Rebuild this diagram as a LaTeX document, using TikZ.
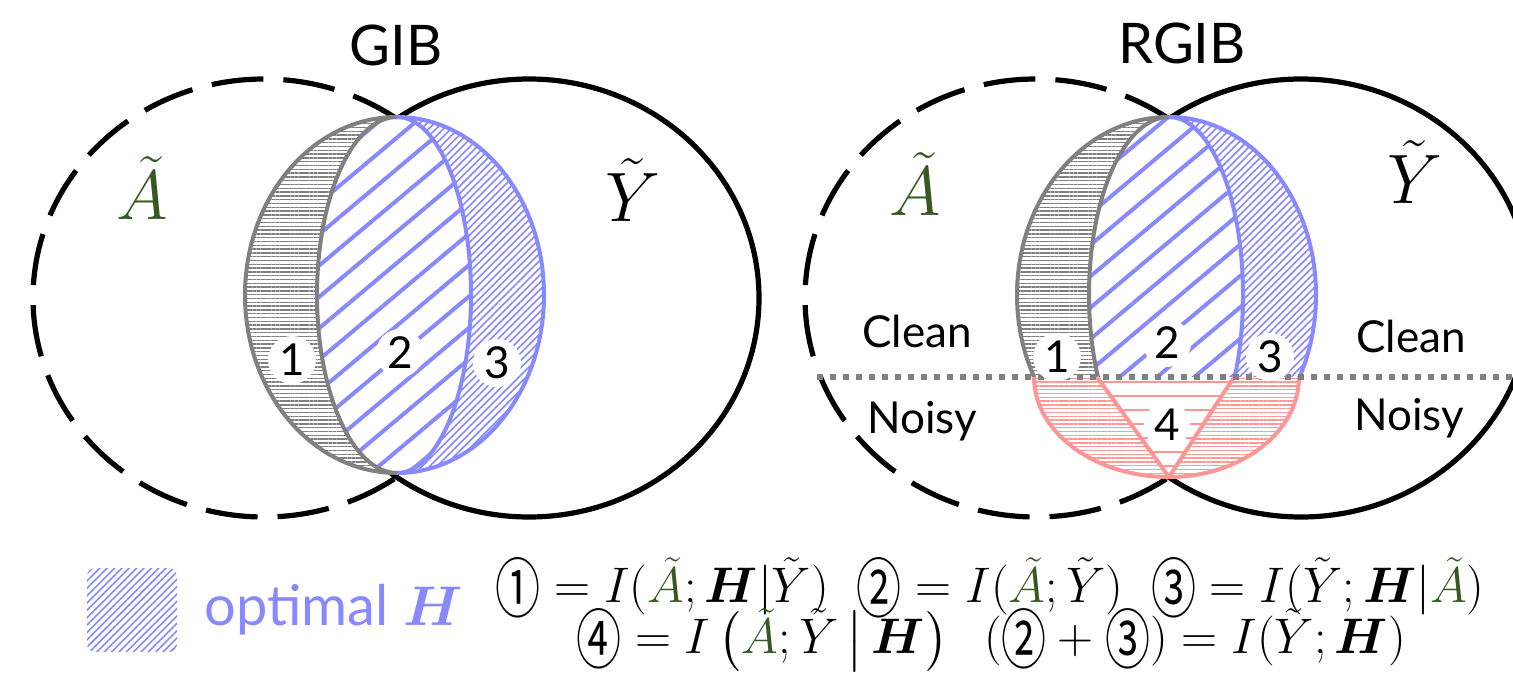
\RequirePackage{fix-cm}
\documentclass[tikz,border=0pt]{standalone}
\usepackage{amsmath,amssymb,bm}
\usepackage{graphicx}
\usepackage{fontspec}
\usepackage{tikz}
\usetikzlibrary{positioning,patterns.meta}
\newfontfamily\gillfont{Lato}
\newfontfamily\circfont{Noto Sans CJK SC}
\definecolor{optblue}{RGB}{136,136,255}
\definecolor{lensgray}{RGB}{128,128,128}
\definecolor{noisepink}{RGB}{255,150,150}
\definecolor{agreen}{RGB}{56,87,35}
\newcommand{\At}{\textcolor{agreen}{\tilde{A}}}
\newcommand{\Yt}{\tilde{Y}}
\newcommand{\Hb}{\bm{H}}
\newcommand{\cnum}[1]{\text{\raisebox{-0.2em}{\scalebox{0.9}[1.3]{\circfont #1}}}}
% the three lens regions, top point (397,117), bottom point (397,473)
\newcommand{\lensfill}[3]{%
  \path[fill=white] (397,117) arc[start angle=270,end angle=90,x radius=152,y radius=178]
    arc[start angle=90,end angle=-90,x radius=147,y radius=178] -- cycle;
  \path[#1] (397,117) arc[start angle=270,end angle=90,x radius=152,y radius=178]
    arc[start angle=90,end angle=270,x radius=80,y radius=178] -- cycle;
  \path[#2] (397,117) arc[start angle=270,end angle=90,x radius=80,y radius=178]
    arc[start angle=90,end angle=-90,x radius=74,y radius=178] -- cycle;
  \path[#3] (397,117) arc[start angle=270,end angle=450,x radius=147,y radius=178]
    arc[start angle=90,end angle=-90,x radius=74,y radius=178] -- cycle;
}
\newcommand{\lensedges}[4]{%
  \draw[#1] (397,117) arc[start angle=270,end angle=90,x radius=152,y radius=178];
  \draw[#2] (397,117) arc[start angle=270,end angle=90,x radius=80,y radius=178];
  \draw[#3] (397,117) arc[start angle=270,end angle=450,x radius=74,y radius=178];
  \draw[#4] (397,117) arc[start angle=270,end angle=450,x radius=147,y radius=178];
}
\tikzset{
  setcircle/.style={line width=2.6pt,draw=black},
  setdashed/.style={setcircle,dash pattern=on 26pt off 10pt},
  grayedge/.style={draw=lensgray,line width=2pt},
  blueedge/.style={draw=optblue,line width=2pt},
  pinkedge/.style={draw=noisepink,line width=2pt,line join=round},
  hatchgray/.style={pattern={Lines[angle=0,distance=1.9pt,line width=0.7pt]},pattern color=lensgray},
  hatchwide/.style={pattern={Lines[angle=40,distance=12pt,line width=2pt]},pattern color=optblue},
  hatchfine/.style={pattern={Lines[angle=45,distance=2.6pt,line width=0.8pt]},pattern color=optblue},
  hatchpink/.style={pattern={Lines[angle=0,distance=1.9pt,line width=0.7pt]},pattern color=noisepink},
  hatchsparse/.style={pattern={Lines[angle=0,distance=7pt,line width=1.4pt]},pattern color=noisepink},
  regionnum/.style={circle,fill=white,inner sep=1pt,minimum size=24pt,font=\gillfont\fontsize{22}{22}\selectfont},
  settitle/.style={font=\gillfont\fontsize{28}{28}\selectfont},
  setname/.style={font=\fontsize{35}{35}\selectfont},
  splitlabel/.style={anchor=base,font=\gillfont\fontsize{22}{22}\selectfont},
  separator/.style={draw=lensgray,line width=2.6pt,dash pattern=on 3pt off 3.5pt},
  legendbox/.style={hatchfine,rounded corners=4pt,minimum width=45pt,minimum height=42pt,inner sep=0pt},
  eqline/.style={inner sep=0pt,font=\fontsize{25}{29}\selectfont},
}
\begin{document}
\begin{tikzpicture}[x=0.5pt,y=-0.5pt]
  \useasboundingbox (0,0) rectangle (1513,690);
  % GIB
  \draw[setdashed] (264,298) ellipse[x radius=231,y radius=219];
  \draw[setcircle] (529,298) ellipse[x radius=230,y radius=219];
  \lensfill{hatchgray}{hatchwide}{hatchfine}
  \lensedges{grayedge}{grayedge}{blueedge}{blueedge}
  \node[settitle] (gibtitle) at (396,45) {GIB};
  \node[setname] (gibA) at (142,188) {$\At$};
  \node[setname] (gibY) at (633,190) {$\Yt$};
  \node[regionnum] (gibone) at (292,360) {1};
  \node[regionnum] (gibtwo) at (400,353) {2};
  \node[regionnum] (gibthree) at (497,363) {3};
  % RGIB
  \begin{scope}[shift={(772,0)}]
    \draw[setdashed] (264,298) ellipse[x radius=231,y radius=219];
    \draw[setcircle] (529,298) ellipse[x radius=230,y radius=219];
    \begin{scope}
      \clip (200,0) rectangle (600,377);
      \lensfill{hatchgray}{hatchwide}{hatchfine}
      \lensedges{grayedge}{grayedge}{blueedge}{blueedge}
    \end{scope}
    % noisy part of the lens
    \path[fill=white] (262,377) arc[start angle=180,end angle=90,x radius=135,y radius=100]
      arc[start angle=90,end angle=0,x radius=130,y radius=100] -- cycle;
    \path[hatchpink] (262,377) arc[start angle=180,end angle=90,x radius=135,y radius=100] -- (325,377) -- cycle;
    \path[hatchsparse] (325,377) -- (397,477) -- (462,377) -- cycle;
    \path[hatchpink] (462,377) -- (397,477) arc[start angle=90,end angle=0,x radius=130,y radius=100] -- cycle;
    \draw[pinkedge] (262,377) arc[start angle=180,end angle=90,x radius=135,y radius=100]
      arc[start angle=90,end angle=0,x radius=130,y radius=100];
    \draw[pinkedge] (325,377) -- (397,477) -- (462,377);
  \end{scope}
  \coordinate (sepL) at (817,377);
  \coordinate (sepR) at (1513,377);
  \draw[separator] (sepL) -- (sepR);
  \node[settitle] (rgibtitle) at (1182,43) {RGIB};
  \node[setname] (rgibA) at (915,184) {$\At$};
  \node[setname] (rgibY) at (1415,172) {$\Yt$};
  \node[splitlabel] (cleanL) at (917,347) {Clean};
  \node[splitlabel] (noisyL) at (922,433) {Noisy};
  \node[splitlabel] (cleanR) at (1411,352) {Clean};
  \node[splitlabel] (noisyR) at (1409,430) {Noisy};
  \node[regionnum] (rgibone) at (1057,357) {1};
  \node[regionnum] (rgibtwo) at (1167,343) {2};
  \node[regionnum] (rgibthree) at (1270,357) {3};
  \node[regionnum,minimum size=20pt] (rgibfour) at (1167,425) {4};
  % legend and formulas
  \node[legendbox] (legbox) at (132,610) {};
  \node[right=10pt of legbox,text=optblue,font=\gillfont\fontsize{28}{28}\selectfont] (legtext) {optimal $\Hb$};
  \node[eqline] (eqtop) at (990,588) {$\cnum{①} = I(\At;\Hb|\Yt)\;\; \cnum{②} = I(\At;\Yt)\;\; \cnum{③} = I(\Yt;\Hb|\At)$};
  \node[eqline] (eqbot) at (991,640) {$\cnum{④} = I\left(\At;\Yt\,\middle|\,\Hb\right)\;\; (\cnum{②} + \cnum{③}) = I(\Yt;\Hb)$};
\end{tikzpicture}
\end{document}
